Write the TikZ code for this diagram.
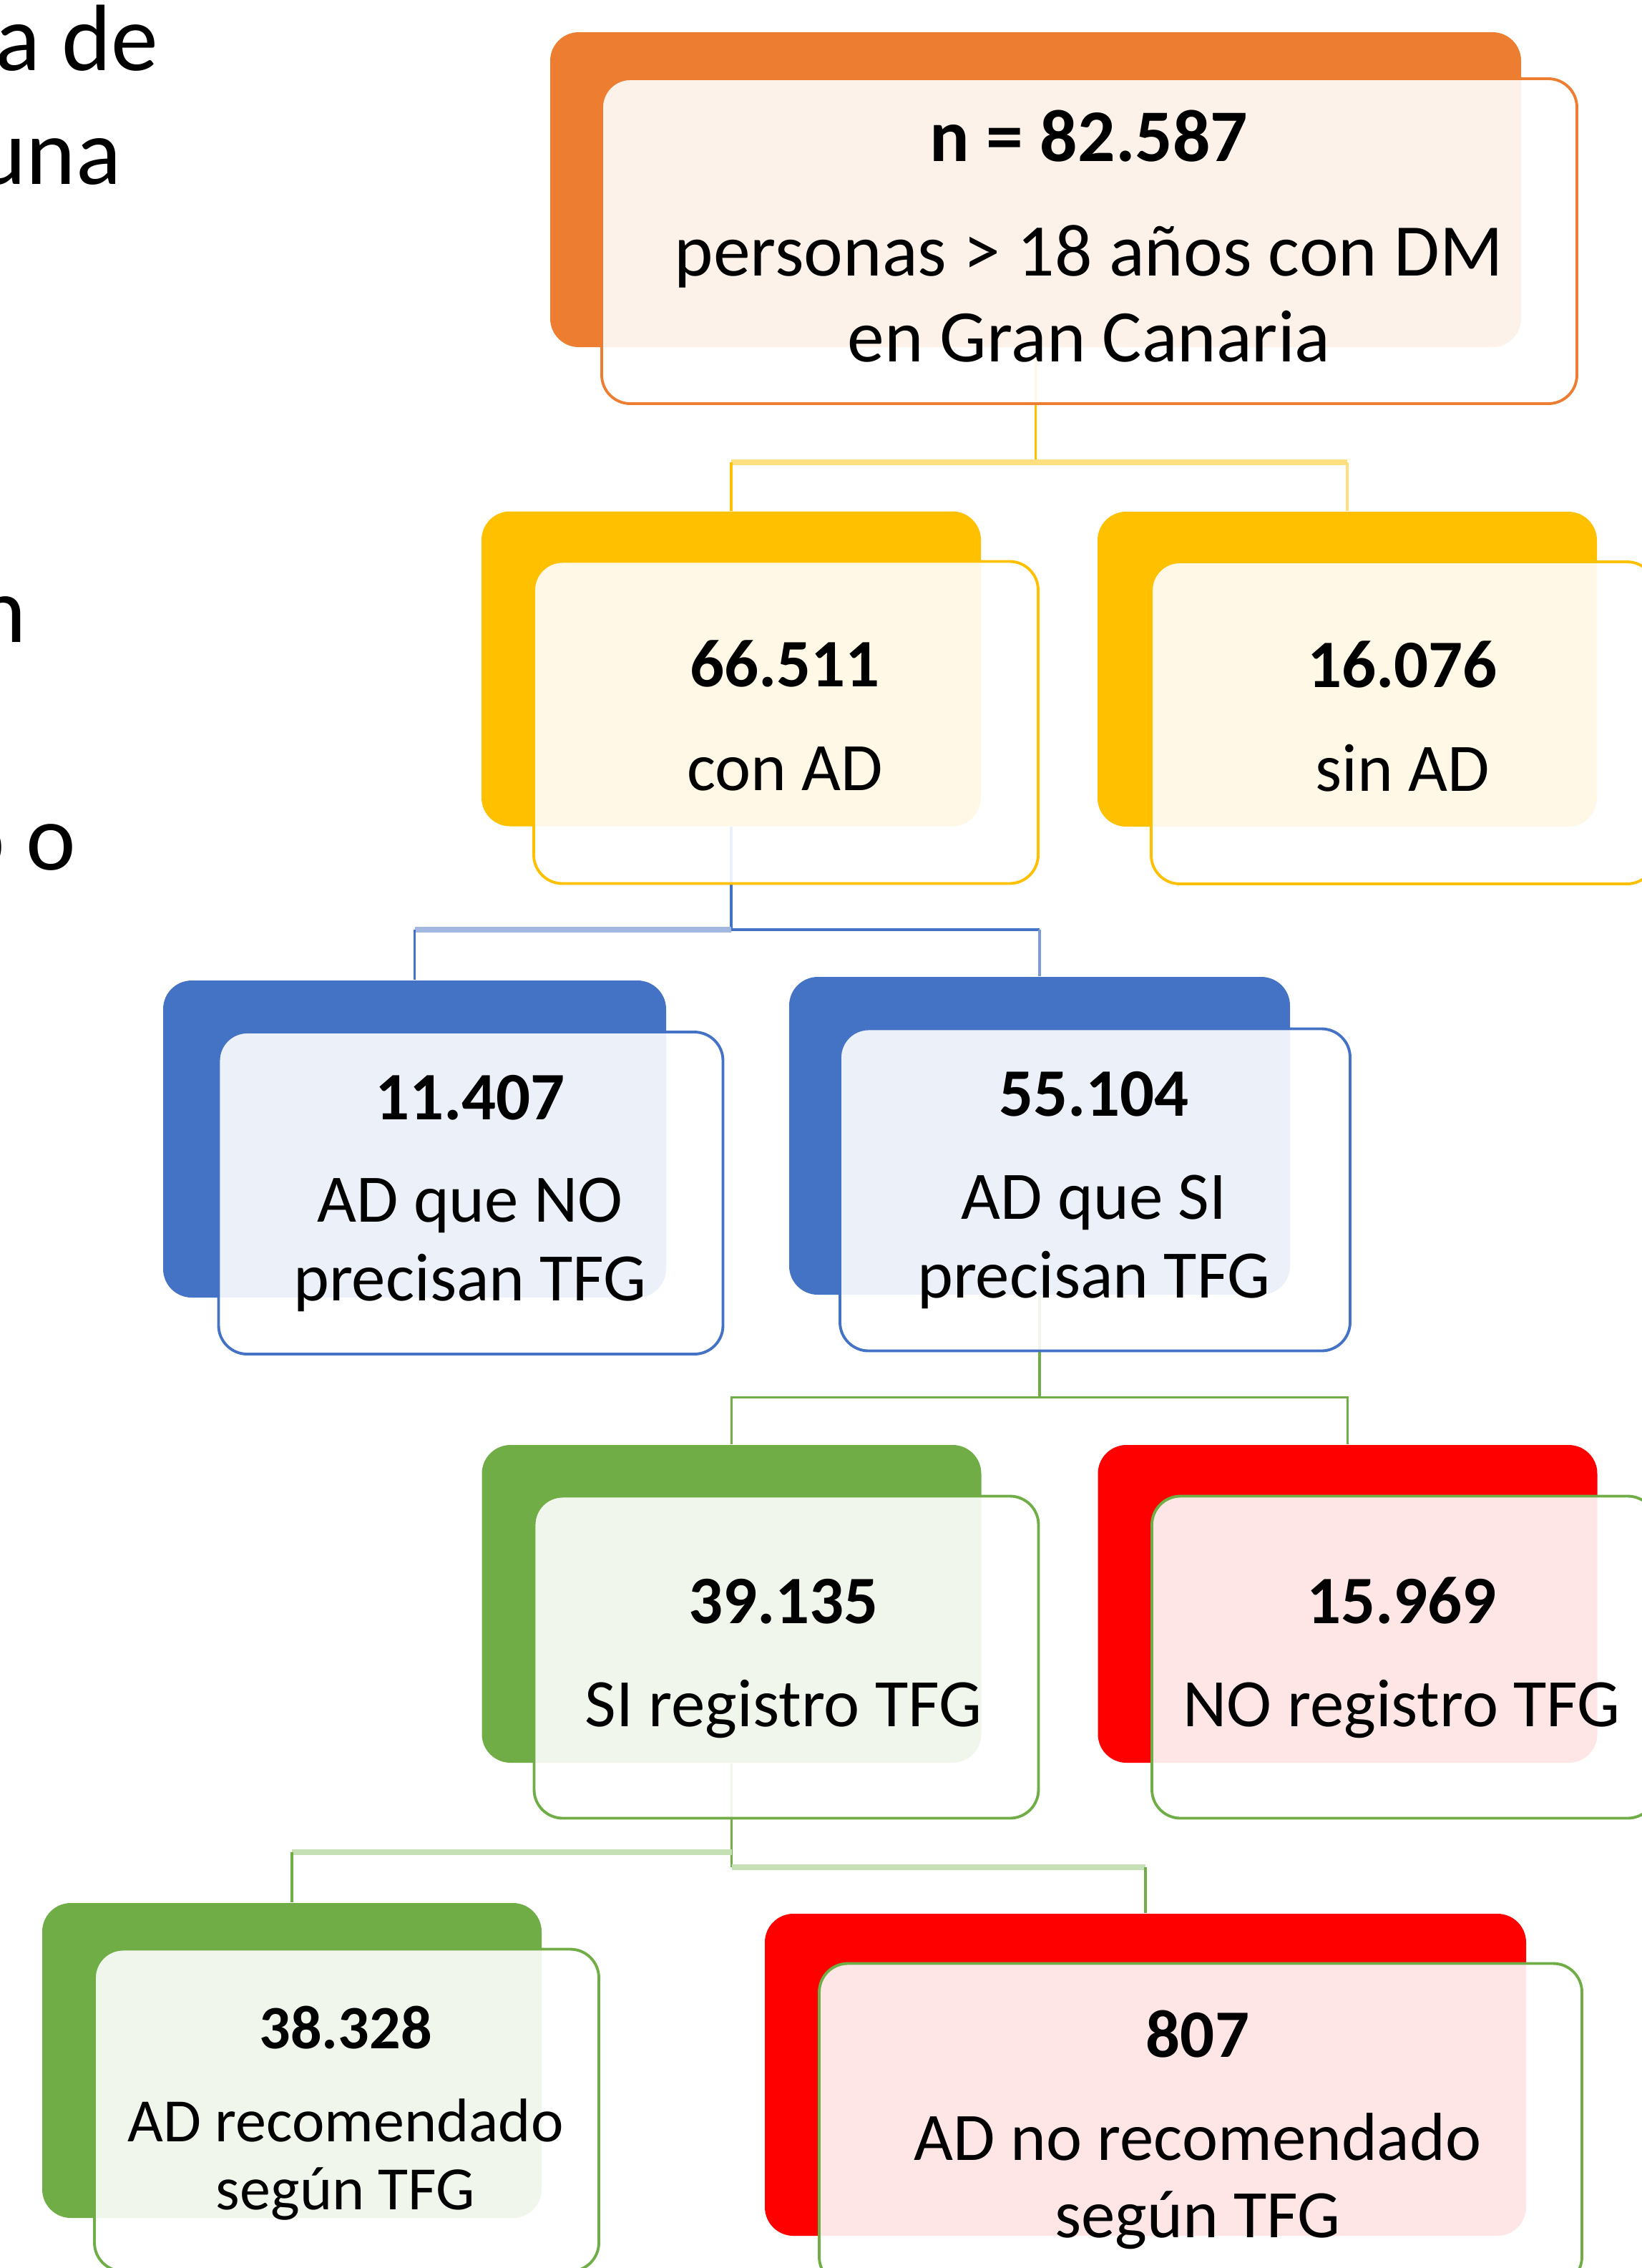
\documentclass[tikz,border=0pt]{standalone}
\usepackage{fontspec}
\setmainfont{Carlito}
\usetikzlibrary{backgrounds}
\definecolor{naranja}{HTML}{ED7D31}
\definecolor{oro}{HTML}{FFC000}
\definecolor{oroclaro}{HTML}{FFDF80}
\definecolor{azul}{HTML}{4472C4}
\definecolor{azulclaro}{HTML}{A2B8E1}
\definecolor{verde}{HTML}{70AD47}
\definecolor{verdeclaro}{HTML}{C5E0B4}
\definecolor{rojo}{HTML}{FF0000}

\begin{document}
\begin{tikzpicture}[
    fondo/.style={rounded corners=0.4cm, fill=#1, minimum width=6.98cm, minimum height=4.4cm, inner sep=0pt},
    frente/.style={rounded corners=0.4cm, draw=#1, line width=1.1pt, fill=white, fill opacity=0.9, minimum width=7.05cm, minimum height=4.5cm, inner sep=0pt},
    cifra/.style={anchor=base, inner sep=0pt, font=\fontsize{27}{31.3}\selectfont\bfseries},
    texto/.style={anchor=base, inner sep=0pt, align=center, font=\fontsize{27}{31.3}\selectfont},
    margen/.style={anchor=base east, inner sep=0pt, font=\fontsize{37.5}{45}\selectfont},
    enlace/.style={line width=1pt, draw=#1},
    barra/.style={line width=2.3pt, draw=#1}
]
    \useasboundingbox (0,0) rectangle (22.95,-31.69);
    \clip (0,0) rectangle (22.95,-31.69);

    \node[margen] (m1) at (2.22,-0.98) {a de};
    \node[margen] (m2) at (1.70,-2.57) {una};
    \node[margen] (m3) at (0.37,-8.97) {n};
    \node[margen] (m4) at (1.07,-12.15) {o o};

    \node[fondo=naranja, minimum width=13.57cm] (nB) at (14.475,-2.65) {};
    \node[frente=naranja, minimum width=13.63cm, minimum height=4.54cm] (nF) at (15.225,-3.37) {};
    \node[cifra, font=\fontsize{29.5}{34.1}\selectfont\bfseries] (nNum) at (15.22,-2.25) {n = 82.587};
    \node[texto, font=\fontsize{29.5}{34.1}\selectfont] (nTxt) at (15.22,-5.05) {personas > 18 años con DM\\en Gran Canaria};

    \node[fondo=oro] (conB) at (10.22,-9.345) {};
    \node[frente=oro] (conF) at (10.985,-10.095) {};
    \node[cifra] (conNum) at (10.97,-9.59) {66.511};
    \node[texto] (conTxt) at (10.97,-11.04) {con AD};

    \node[fondo=oro] (sinB) at (18.83,-9.35) {};
    \node[frente=oro] (sinF) at (19.615,-10.1) {};
    \node[cifra] (sinNum) at (19.60,-9.60) {16.076};
    \node[texto] (sinTxt) at (19.60,-11.05) {sin AD};

    \node[fondo=azul, minimum width=7.03cm, minimum height=4.43cm] (noTB) at (5.795,-15.915) {};
    \node[frente=azul] (noTF) at (6.58,-16.67) {};
    \node[cifra] (noTNum) at (6.57,-15.64) {11.407};
    \node[texto] (noTTxt) at (6.57,-18.17) {AD que NO\\precisan TFG};

    \node[fondo=azul, minimum width=7cm, minimum height=4.44cm] (siTB) at (14.53,-15.87) {};
    \node[frente=azul, minimum width=7.13cm] (siTF) at (15.305,-16.625) {};
    \node[cifra] (siTNum) at (15.29,-15.59) {55.104};
    \node[texto] (siTTxt) at (15.29,-18.13) {AD que SI\\precisan TFG};

    \node[fondo=verde, minimum height=4.44cm] (siRB) at (10.225,-22.41) {};
    \node[frente=verde] (siRF) at (10.99,-23.155) {};
    \node[cifra] (siRNum) at (10.95,-22.68) {39.135};
    \node[texto] (siRTxt) at (10.95,-24.12) {SI registro TFG};

    \node[fondo=rojo, minimum height=4.44cm] (noRB) at (18.835,-22.41) {};
    \node[frente=verde] (noRF) at (19.625,-23.155) {};
    \node[cifra] (noRNum) at (19.59,-22.68) {15.969};
    \node[texto] (noRTxt) at (19.59,-24.12) {NO registro TFG};

    \node[fondo=verde] (recB) at (4.08,-28.79) {};
    \node[frente=verde] (recF) at (4.845,-29.485) {};
    \node[cifra, font=\fontsize{24.5}{27}\selectfont\bfseries] (recNum) at (4.83,-28.62) {38.328};
    \node[texto, font=\fontsize{24.5}{27}\selectfont] (recTxt) at (4.83,-30.87) {AD recomendado\\según TFG};

    \node[fondo=rojo, minimum width=10.64cm, minimum height=4.5cm] (norecB) at (16.01,-28.99) {};
    \node[frente=verde, minimum width=10.66cm] (norecF) at (16.78,-29.685) {};
    \node[cifra] (norecNum) at (16.74,-28.74) {807};
    \node[texto, font=\fontsize{27}{30.7}\selectfont] (norecTxt) at (16.74,-31.26) {AD no recomendado\\según TFG};

    \begin{pgfonlayer}{background}
        \draw[enlace=oro] (nB.south) -- ++(0,-1.6) coordinate (nJ);
        \draw[barra=oroclaro] (conB.north |- nJ) -- (sinB.north |- nJ);
        \draw[enlace=oro] (conB.north |- nJ) -- (conB.north);
        \draw[enlace=oroclaro] (sinB.north |- nJ) -- (sinB.north);

        \draw[enlace=azul] (conB.south) -- ++(0,-1.44) coordinate (conJ);
        \draw[barra=azulclaro] (conJ) -- (noTB.north |- conJ);
        \draw[enlace=azul] (noTB.north |- conJ) -- (noTB.north);
        \draw[enlace=azul] (conJ) -- (siTB.north |- conJ);
        \draw[enlace=azul!70] (siTB.north |- conJ) -- (siTB.north);

        \draw[enlace=verde] (siTB.south) -- ++(0,-1.43) coordinate (siTJ);
        \draw[enlace=verde] (siRB.north) |- (siTJ);
        \draw[enlace=verde] (siTJ) -| (noRB.north);

        \draw[enlace=verde] (siRB.south) -- ++(0,-1.45) coordinate (siRJ);
        \coordinate (siRK) at ([yshift=-1.24cm]siRB.south);
        \draw[barra=verdeclaro] (siRK) -- (recB.north |- siRK);
        \draw[enlace=verde] (recB.north |- siRK) -- (recB.north);
        \draw[barra=verdeclaro] (siRJ) -- (norecB.north |- siRJ);
        \draw[enlace=verde] (norecB.north |- siRJ) -- (norecB.north);
    \end{pgfonlayer}
\end{tikzpicture}
\end{document}
